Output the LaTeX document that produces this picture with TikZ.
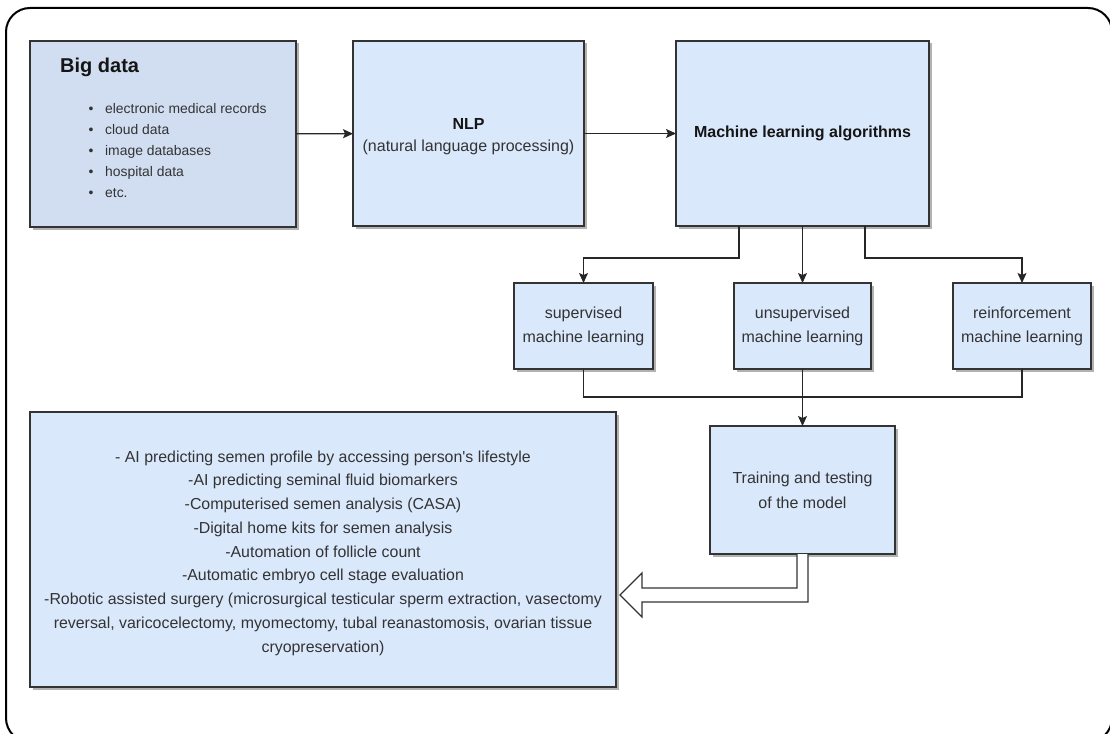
\documentclass[tikz,border=0pt]{standalone}
\usepackage{fontspec}
\setmainfont{Liberation Sans}
\usetikzlibrary{arrows.meta,shadows}
\definecolor{boxfill}{HTML}{DAE8FC}
\definecolor{bigfill}{HTML}{D1DEF1}
\definecolor{edge}{HTML}{333333}
\definecolor{txt}{HTML}{333333}
\definecolor{dark}{HTML}{151515}
\begin{document}
\begin{tikzpicture}[x=1pt,y=-1pt,
  box/.style={draw=edge, line width=1.3pt, fill=boxfill, inner sep=0pt, outer sep=0pt,
    drop shadow={shadow xshift=2.5pt,shadow yshift=-2.5pt,fill=black,opacity=0.3},
    text=txt, align=center, font=\fontsize{16}{24}\selectfont},
  arr/.style={draw=black!85, line width=1.1pt, -{Stealth[length=10pt,width=9pt,inset=2pt]}},
  ln/.style={draw=black!85, line width=1.1pt},
  lbl/.style={inner sep=0pt, text=txt}]
\useasboundingbox (0,0) rectangle (1110,733);
\draw[line width=2pt, rounded corners=24pt] (6,8) rectangle (1112,742);

% top row
\node[box, fill=bigfill, minimum width=266, minimum height=186] (big) at (163,134) {};
\node[lbl, text=dark, anchor=west, font=\bfseries\fontsize{20}{24}\selectfont] (bigt) at (60,67) {Big data};
\node[lbl, anchor=west, align=left, font=\fontsize{13.9}{21}\selectfont] (bigl) at (88.5,151)
  {\textbullet\hspace{11.6pt}electronic medical records\\
   \textbullet\hspace{11.6pt}cloud data\\
   \textbullet\hspace{11.6pt}image databases\\
   \textbullet\hspace{11.6pt}hospital data\\
   \textbullet\hspace{11.6pt}etc.};

\node[box, minimum width=231, minimum height=185] (nlp) at (468.5,133.5) {};
\node[lbl, align=center, font=\fontsize{16}{22}\selectfont] (nlpt) at (468.5,137)
  {\textcolor{dark}{\textbf{NLP}}\\(natural language processing)};
\node[box, minimum width=253, minimum height=185, text=dark] (ml) at (802.5,133.5)
  {\textbf{Machine learning algorithms}};

% middle row
\node[box, minimum width=139, minimum height=86] (sup) at (583.5,326) {supervised\\machine learning};
\node[box, minimum width=137, minimum height=86] (unsup) at (802.5,326) {unsupervised\\machine learning};
\node[box, minimum width=138, minimum height=86] (reinf) at (1022,326) {reinforcement\\machine learning};

% bottom row
\node[box, minimum width=185, minimum height=128, font=\fontsize{16}{25}\selectfont] (train) at (802.5,490)
  {Training and testing\\of the model};
\node[box, minimum width=586, minimum height=275] (out) at (323,549.5) {};
\node[lbl, align=center, font=\fontsize{15.9}{23.75}\selectfont] (outt) at (323,553)
  {- AI predicting semen profile by accessing person\textquotesingle s lifestyle\\
   -AI predicting seminal fluid biomarkers\\
   -Computerised semen analysis (CASA)\\
   -Digital home kits for semen analysis\\
   -Automation of follicle count\\
   -Automatic embryo cell stage evaluation\\
   -Robotic assisted surgery (microsurgical testicular sperm extraction, vasectomy\\
   reversal, varicocelectomy, myomectomy, tubal reanastomosis, ovarian tissue\\
   cryopreservation)};

% connectors
\draw[arr] (big) -- (nlp);
\draw[arr] (nlp) -- (ml);
\coordinate (bl) at (739,258);
\coordinate (br) at (865,258);
\draw[arr] (ml.south -| bl) -- (bl) -| (sup.north);
\draw[arr] (ml.south) -- (unsup.north);
\draw[arr] (ml.south -| br) -- (br) -| (reinf.north);
\coordinate (j) at (802.5,397);
\draw[ln] (sup.south) |- (j) -| (reinf.south);
\draw[arr] (unsup.south) -- (train.north);

% hollow arrow
\coordinate (tip) at (620,595);
\draw[line width=1.2pt, draw=black!80, fill=white, line join=miter]
  ([xshift=-5.5pt]train.south) -- ++(0,34) -- ([xshift=22pt,yshift=7pt]tip) -- ([xshift=22pt,yshift=22pt]tip)
  -- (tip) -- ([xshift=22pt,yshift=-22pt]tip) -- ([xshift=22pt,yshift=-7pt]tip)
  -- ([xshift=5.5pt,yshift=-48pt]train.south) -- ([xshift=5.5pt]train.south);
\end{tikzpicture}
\end{document}
